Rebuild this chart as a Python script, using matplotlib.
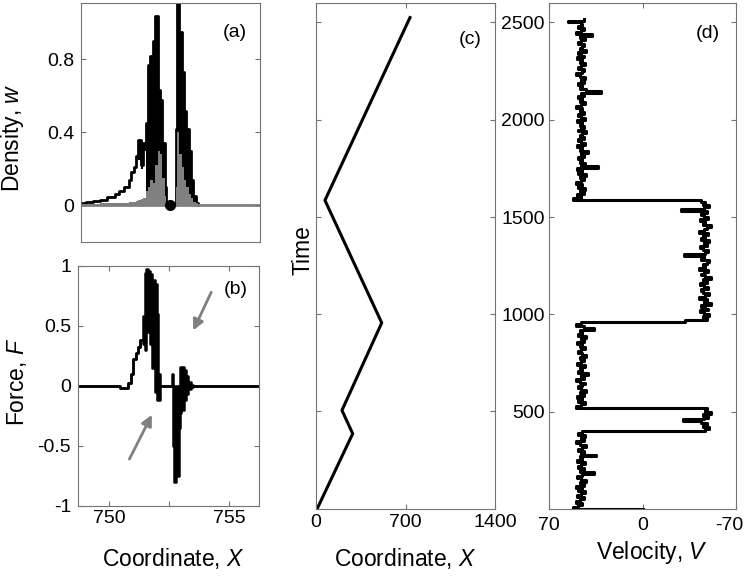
import numpy as np
import matplotlib
matplotlib.use("Agg")
import matplotlib.pyplot as plt
import matplotlib.transforms as mtransforms

plt.rcParams['font.family'] = ['Liberation Sans', 'DejaVu Sans']
plt.rcParams['mathtext.fontset'] = 'custom'
plt.rcParams['mathtext.rm'] = 'Liberation Sans'
plt.rcParams['mathtext.it'] = 'Liberation Sans:italic'
plt.rcParams['axes.unicode_minus'] = False

# (a) density: black = w (upper / lower edge of the dense band), gray = second density
xa = [748.7, 749.0, 749.3, 749.6, 749.9, 750.2, 750.4, 750.6, 750.8, 750.9, 751.0, 751.1,
      751.2, 751.3, 751.4, 751.5, 751.6, 751.7, 751.8, 751.9, 752.0, 752.1, 752.2, 752.3,
      752.35, 752.75, 752.8, 752.9, 753.0, 753.1, 753.2, 753.3, 753.4, 753.5, 753.6, 753.7]
wa_top = [0.015, 0.02, 0.025, 0.03, 0.045, 0.06, 0.08, 0.10, 0.14, 0.18, 0.21, 0.27,
          0.36, 0.22, 0.34, 0.45, 0.77, 0.82, 0.90, 1.04, 0.63, 0.58, 0.34, 0.10,
          0.0, 0.42, 1.15, 0.95, 0.73, 0.52, 0.42, 0.30, 0.14, 0.05, 0.01, 0.0]
wa_bot = [0.015, 0.02, 0.025, 0.03, 0.045, 0.06, 0.08, 0.10, 0.14, 0.18, 0.21, 0.27,
          0.25, 0.20, 0.30, 0.0, 0.0, 0.0, 0.0, 0.0, 0.0, 0.0, 0.0, 0.0,
          0.0, 0.0, 0.0, 0.0, 0.0, 0.0, 0.0, 0.0, 0.0, 0.0, 0.0, 0.0]
ga = [0.005, 0.005, 0.008, 0.01, 0.01, 0.012, 0.014, 0.015, 0.018, 0.02, 0.02, 0.025,
      0.03, 0.035, 0.04, 0.08, 0.10, 0.14, 0.12, 0.22, 0.30, 0.28, 0.15, 0.05,
      0.0, 0.10, 0.40, 0.28, 0.21, 0.14, 0.10, 0.06, 0.04, 0.02, 0.01, 0.0]
x_gap = 752.53

# (b) force
xb = [748.7, 750.45, 750.8, 750.9, 751.0, 751.1, 751.2, 751.3, 751.4, 751.5, 751.55, 751.6,
      751.7, 751.8, 751.9, 752.0, 752.05, 752.1, 752.2, 752.6, 752.65, 752.7, 752.8, 752.9,
      752.95, 753.0, 753.1, 753.2, 753.3, 753.4, 753.5, 756.3]
fb_top = [0.0, -0.02, 0.02, 0.10, 0.22, 0.27, 0.32, 0.38, 0.58, 0.94, 0.97, 0.96,
          0.93, 0.88, 0.85, 0.60, 0.10, 0.0, 0.0, 0.10, 0.0, 0.0, 0.0, 0.0,
          0.16, 0.16, 0.13, 0.08, 0.03, 0.01, 0.0, 0.0]
fb_bot = [0.0, -0.02, 0.02, 0.10, 0.22, 0.27, 0.32, 0.38, 0.35, 0.30, 0.45, 0.45,
          0.35, 0.15, -0.05, -0.12, -0.12, 0.0, 0.0, 0.0, -0.50, -0.80, -0.75, -0.35,
          -0.23, -0.20, -0.12, -0.07, -0.03, -0.01, 0.0, 0.0]

# (c) trajectory
tc = [0, 385, 505, 955, 1585, 2525]
xc = [10, 287, 203, 514, 70, 735]

# (d) velocity, sampled every 10 time units
vel = ([0] +
       [52, 48, 45, 50, 47, 44, 49, 46, 43, 48, 45, 50, 44, 47, 42, 46, 49, 45, 36, 47,
        44, 48, 46, 43, 49, 45, 47, 35, 46, 44, 48, 45, 42, 47, 50, 44, 46, 43, 48, 45] +
       [-47, -50, -45, -48, -44, -30, -46, -49, -45, -51, -47, -48] +
       [50, 46, 43, 48, 45, 49, 44, 47, 42, 46, 48, 45, 43, 47, 50, 44, 46, 41, 48, 45,
        47, 43, 49, 46, 44, 47, 42, 45, 48, 46, 43, 47, 45, 49, 44, 46, 42, 48, 45, 47,
        36, 44, 50, 46] +
       [-32, -48, -45, -50, -46, -43, -49, -47, -44, -51, -46, -48, -42, -47, -50, -45,
        -44, -49, -46, -43, -48, -45, -51, -47, -44, -46, -49, -42, -47, -45, -48, -50,
        -44, -46, -31, -47, -49, -45, -43, -48, -46, -50, -44, -47, -45, -49, -42, -46,
        -48, -51, -45, -47, -43, -49, -46, -44, -48, -29, -46, -50, -45, -47, -44] +
       [52, 46, 49, 44, 47, 43, 48, 45, 50, 46, 44, 47, 42, 48, 45, 49, 33, 46, 43, 47,
        45, 48, 44, 46, 41, 47, 45, 49, 43, 46, 48, 44, 47, 45, 42, 48, 46, 44, 47, 45,
        49, 43, 46, 48, 44, 47, 45, 50, 46, 43, 47, 45, 48, 44, 46, 31, 42, 47, 45, 48,
        44, 46, 43, 47, 50, 45, 44, 48, 46, 43, 47, 45, 49, 44, 46, 48, 42, 47, 45, 44,
        48, 46, 43, 47, 38, 50, 46, 44, 48, 45, 46, 56, 44])
td = 10 * np.arange(len(vel))

W, H = 747, 576
fig = plt.figure(figsize=(W / 100, H / 100), dpi=100)


def add_ax(l, t, r, b):
    return fig.add_axes([l / W, 1 - b / H, (r - l) / W, (b - t) / H])


def style(ax, ypad=5, xpad=3):
    for s in ax.spines.values():
        s.set_color('0.45')
        s.set_linewidth(0.8)
    ax.tick_params(direction='in', length=3.5, width=0.8, color='0.45',
                   top=True, right=True, labelsize=14)
    ax.tick_params(axis='y', pad=ypad)
    ax.tick_params(axis='x', pad=xpad)


lab = 16.5
tag = 14

# (a)
axa = add_ax(81, 3, 260, 241.7)
axa.plot([748.5, 756.5], [0, 0], color='0.5', lw=2, zorder=1)
axa.fill_between(xa, wa_bot, wa_top, step='post', color='k', lw=0, zorder=0)
axa.plot(xa, wa_top, color='k', lw=2, drawstyle='steps-post', zorder=0)
axa.fill_between(xa, 0, ga, step='post', color='0.5', lw=0, zorder=2)
axa.plot([x_gap], [0], 'o', color='k', ms=7, zorder=3)
axa.set_xlim(748.8, 756.28)
axa.set_ylim(-0.2, 1.11)
axa.set_xticks([])
axa.set_yticks([0, 0.4, 0.8])
axa.set_yticklabels(['0', '0.4', '0.8'])
style(axa)
axa.set_ylabel('Density, $w$', fontsize=lab)
axa.yaxis.set_label_coords(-0.307, 0.437)
axa.text(0.86, 0.875, '(a)', transform=axa.transAxes, fontsize=tag, ha='center', va='center')

# (b)
axb = add_ax(78, 265.7, 259, 506)
axb.fill_between(xb, fb_bot, fb_top, step='post', color='k', lw=0)
axb.plot(xb, fb_top, color='k', lw=1.8, drawstyle='steps-post')
axb.plot(xb, fb_bot, color='k', lw=1.8, drawstyle='steps-post')
axb.annotate('', xy=(753.45, 0.44), xytext=(754.3, 0.8),
             arrowprops=dict(arrowstyle='-|>', color='0.5', lw=2, mutation_scale=16))
axb.annotate('', xy=(751.83, -0.22), xytext=(750.79, -0.63),
             arrowprops=dict(arrowstyle='-|>', color='0.5', lw=2, mutation_scale=16))
axb.set_xlim(748.7, 756.24)
axb.set_ylim(-1, 1)
axb.set_xticks([750, 752.5, 755])
axb.set_xticklabels(['750', '', '755'])
axb.set_yticks([-1, -0.5, 0, 0.5, 1])
axb.set_yticklabels(['-1', '-0.5', '0', '0.5', '1'])
style(axb)
axb.set_ylabel('Force, $F$', fontsize=lab)
axb.yaxis.set_label_coords(-0.271, 0.516)
axb.set_xlabel('Coordinate, $X$', fontsize=lab)
axb.xaxis.set_label_coords(0.525, -0.165)
axb.text(0.87, 0.9, '(b)', transform=axb.transAxes, fontsize=tag, ha='center', va='center')

# (c)
axc = add_ax(316, 3, 495, 508.5)
axc.plot(xc, tc, color='k', lw=2.2)
axc.set_xlim(0, 1400)
axc.set_ylim(0, 2600)
axc.set_xticks([0, 700, 1400])
axc.set_yticks([500, 1000, 1500, 2000, 2500])
axc.set_yticklabels([])
style(axc, xpad=4)
axc.set_ylabel('Time', fontsize=lab)
axc.yaxis.set_label_coords(-0.006, 0.511)
axc.set_xlabel('Coordinate, $X$', fontsize=lab)
axc.xaxis.set_label_coords(0.5, -0.074)
axc.text(0.86, 0.927, '(c)', transform=axc.transAxes, fontsize=tag, ha='center', va='center')

# (d)
axd = add_ax(549, 3, 736, 509)
axd.plot(vel, td, color='k', lw=2.2, drawstyle='steps-post')
axd.set_xlim(70, -70)
axd.set_ylim(0, 2600)
axd.set_xticks([70, 0, -70])
axd.set_xticklabels(['70', '0', '-70'])
axd.set_yticks([500, 1000, 1500, 2000, 2500])
style(axd, ypad=3, xpad=5.5)
shift = mtransforms.ScaledTranslation(-0.07, 0, fig.dpi_scale_trans)
last = axd.get_xticklabels()[-1]
last.set_transform(last.get_transform() + shift)
axd.set_xlabel('Velocity, $V$', fontsize=lab)
axd.xaxis.set_label_coords(0.548, -0.059)
axd.text(0.85, 0.94, '(d)', transform=axd.transAxes, fontsize=tag, ha='center', va='center')

fig.savefig('out.png', dpi=100)
